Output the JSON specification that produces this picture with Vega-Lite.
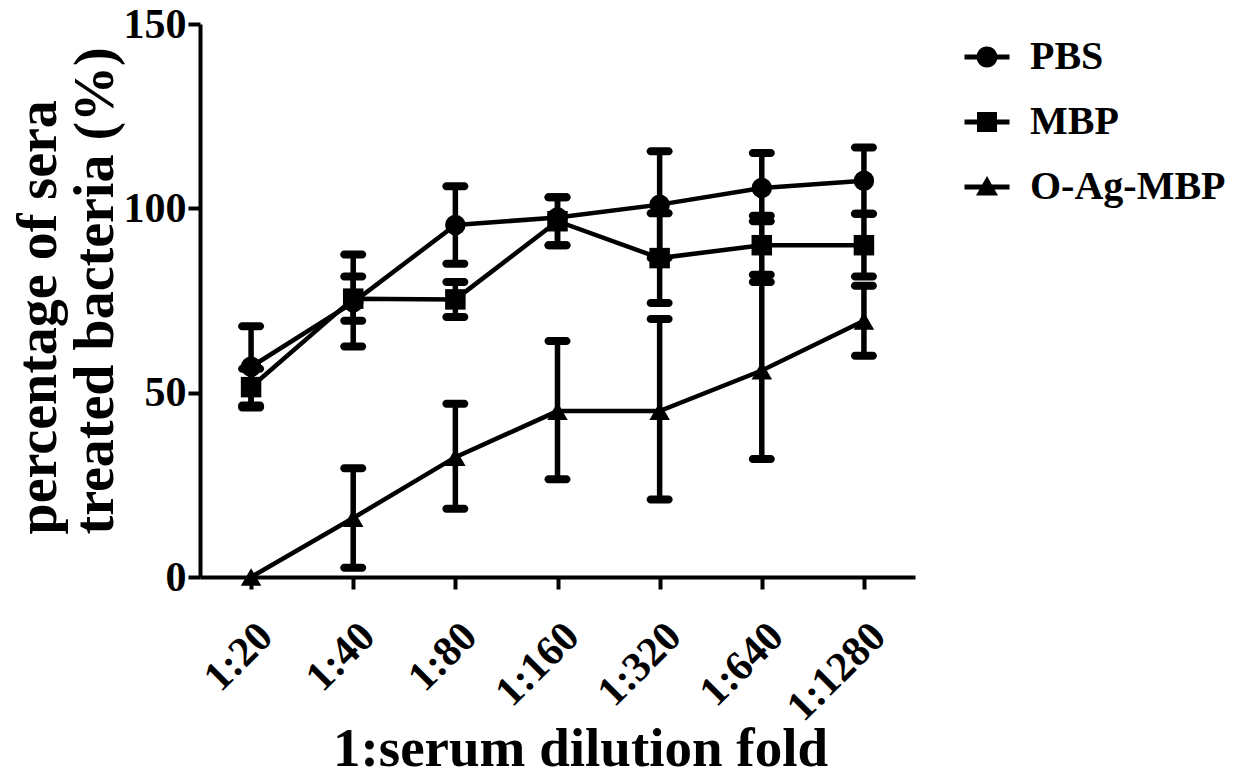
{
  "$schema": "https://vega.github.io/schema/vega-lite/v6.json",
  "width": 715,
  "height": 553,
  "autosize": {"type": "none"},
  "padding": {"left": 200, "top": 24, "right": 322, "bottom": 202},
  "background": "white",
  "config": {
    "view": {"stroke": null},
    "font": "Liberation Serif",
    "axis": {
      "domainColor": "black",
      "domainWidth": 4,
      "tickColor": "black",
      "tickWidth": 4,
      "tickSize": 12,
      "grid": false,
      "labelFont": "Liberation Serif",
      "labelFontWeight": "bold",
      "labelColor": "black",
      "labelFontSize": 42,
      "titleFont": "Liberation Serif",
      "titleFontWeight": "bold",
      "titleColor": "black",
      "titleFontSize": 55
    }
  },
  "data": {
    "values": [
      {"dil": "1:20", "group": "PBS", "v": 57, "lo": 46, "hi": 68},
      {"dil": "1:40", "group": "PBS", "v": 74.5, "lo": 62.5, "hi": 87.5},
      {"dil": "1:80", "group": "PBS", "v": 95.5, "lo": 85, "hi": 106},
      {"dil": "1:160", "group": "PBS", "v": 97.5, "lo": 90, "hi": 103},
      {"dil": "1:320", "group": "PBS", "v": 101, "lo": 86.5, "hi": 115.5},
      {"dil": "1:640", "group": "PBS", "v": 105.5, "lo": 96.5, "hi": 115},
      {"dil": "1:1280", "group": "PBS", "v": 107.5, "lo": 98.5, "hi": 116.5},
      {"dil": "1:20", "group": "MBP", "v": 51.5, "lo": 46.5, "hi": 56.5},
      {"dil": "1:40", "group": "MBP", "v": 75.5, "lo": 69.5, "hi": 81.5},
      {"dil": "1:80", "group": "MBP", "v": 75.3, "lo": 70.5, "hi": 80},
      {"dil": "1:160", "group": "MBP", "v": 96.5, "lo": 90, "hi": 103},
      {"dil": "1:320", "group": "MBP", "v": 86.5, "lo": 74.3, "hi": 98.7},
      {"dil": "1:640", "group": "MBP", "v": 90, "lo": 82, "hi": 98},
      {"dil": "1:1280", "group": "MBP", "v": 90, "lo": 81.5, "hi": 98.5},
      {"dil": "1:20", "group": "O-Ag-MBP", "v": 0, "lo": null, "hi": null},
      {"dil": "1:40", "group": "O-Ag-MBP", "v": 16, "lo": 2.5, "hi": 29.5},
      {"dil": "1:80", "group": "O-Ag-MBP", "v": 32.5, "lo": 18.5, "hi": 47},
      {"dil": "1:160", "group": "O-Ag-MBP", "v": 45, "lo": 26.5, "hi": 64},
      {"dil": "1:320", "group": "O-Ag-MBP", "v": 45, "lo": 21, "hi": 70},
      {"dil": "1:640", "group": "O-Ag-MBP", "v": 56, "lo": 32, "hi": 80},
      {"dil": "1:1280", "group": "O-Ag-MBP", "v": 69.5, "lo": 60, "hi": 79}
    ]
  },
  "encoding": {
    "x": {
      "field": "dil",
      "type": "ordinal",
      "sort": ["1:20", "1:40", "1:80", "1:160", "1:320", "1:640", "1:1280"],
      "scale": {"type": "point", "padding": 0.5},
      "axis": {
        "labelAngle": -45,
        "labelPadding": 26,
        "title": "1:serum dilution fold",
        "titleX": 380,
        "titleY": 188,
        "titleBaseline": "alphabetic",
        "titleAlign": "center",
        "titleAnchor": null
      }
    }
  },
  "layer": [
    {
      "mark": {"type": "rule", "color": "black", "strokeWidth": 5.5},
      "encoding": {
        "y": {
          "field": "lo",
          "type": "quantitative",
          "scale": {"domain": [0, 150], "nice": false, "zero": true},
          "axis": {
            "values": [0, 50, 100, 150],
            "labelPadding": 2,
            "title": ["percentage of sera", "treated bacteria (%)"],
            "titleAngle": -90,
            "titleFontSize": 56,
            "titleX": -145,
            "titleY": 510,
            "titleAlign": "left",
            "titleBaseline": "alphabetic",
            "titleLineHeight": 57,
            "titleAnchor": null
          }
        },
        "y2": {"field": "hi"}
      }
    },
    {
      "mark": {"type": "tick", "color": "black", "size": 26, "thickness": 8, "cornerRadius": 4, "opacity": 1},
      "encoding": {
        "y": {"field": "lo", "type": "quantitative"}
      }
    },
    {
      "mark": {"type": "tick", "color": "black", "size": 26, "thickness": 8, "cornerRadius": 4, "opacity": 1},
      "encoding": {
        "y": {"field": "hi", "type": "quantitative"}
      }
    },
    {
      "mark": {"type": "line", "color": "black", "strokeWidth": 4.5},
      "encoding": {
        "y": {"field": "v", "type": "quantitative"},
        "detail": {"field": "group"}
      }
    },
    {
      "mark": {"type": "point", "filled": true, "color": "black", "size": 420, "opacity": 1},
      "encoding": {
        "y": {"field": "v", "type": "quantitative"},
        "shape": {
          "field": "group",
          "type": "nominal",
          "scale": {"domain": ["PBS", "MBP", "O-Ag-MBP"], "range": ["circle", "square", "triangle-up"]},
          "legend": null
        }
      }
    },
    {
      "mark": {"type": "point", "filled": true, "color": "black", "size": 330, "opacity": 0},
      "encoding": {
        "y": {"field": "v", "type": "quantitative"},
        "shape": {
          "field": "group",
          "type": "nominal",
          "scale": {
            "domain": ["PBS", "MBP", "O-Ag-MBP"],
            "range": [
              "M-2.25,-0.25H2.25V0.25H-2.25Z M1.05,0A1.05,1.05,0,1,1,-1.05,0A1.05,1.05,0,1,1,1.05,0Z",
              "M-2.25,-0.25H2.25V0.25H-2.25Z M-1,-1H1V1H-1Z",
              "M-2.25,-0.25H2.25V0.25H-2.25Z M0,-1.1L1.1,0.85H-1.1Z"
            ]
          },
          "legend": {
            "title": null,
            "orient": "none",
            "legendX": 767,
            "legendY": 13,
            "labelFont": "Liberation Serif",
            "labelFontWeight": "bold",
            "labelFontSize": 40,
            "labelColor": "black",
            "labelOffset": 23,
            "labelLimit": 0,
            "rowPadding": 25,
            "symbolSize": 400,
            "symbolFillColor": "black",
            "symbolStrokeColor": "black",
            "symbolStrokeWidth": 0,
            "symbolOpacity": 1
          }
        }
      }
    }
  ],
  "resolve": {"scale": {"shape": "independent"}}
}
